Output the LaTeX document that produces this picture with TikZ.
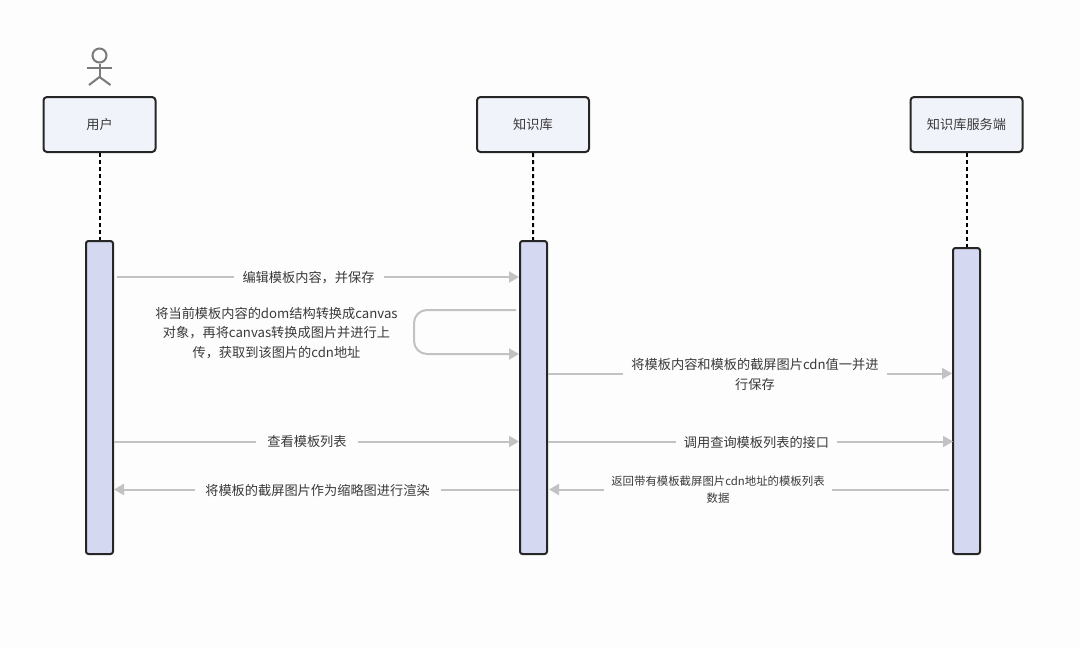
\documentclass[tikz,border=0pt]{standalone}
\usepackage{fontspec}
\setmainfont{Noto Sans CJK SC}
\usepackage{tikz}
\usetikzlibrary{positioning,arrows.meta}
\definecolor{pagebg}{HTML}{FDFDFD}
\definecolor{actorfill}{HTML}{F1F3FB}
\definecolor{barfill}{HTML}{D4D8F0}
\definecolor{msgline}{HTML}{C2C2C2}
\definecolor{msgtext}{HTML}{3A3A3A}
\definecolor{figline}{HTML}{7A7A7A}
\begin{document}
\begin{tikzpicture}[x=1pt,y=-1pt,font=\fontsize{13.2}{19.5}\selectfont]
    \tikzset{actorbox/.style={draw=black!85,line width=2pt,rounded corners=3.5pt,fill=actorfill,
        minimum width=112pt,minimum height=55pt,inner sep=0pt,text=msgtext}}
    \tikzset{bar/.style={draw=black!85,line width=2pt,rounded corners=2.5pt,fill=barfill,
        minimum width=27pt,inner sep=0pt}}
    \tikzset{msg/.style={draw=msgline,line width=2pt,-{Triangle[length=10pt,width=11pt]}}}
    \tikzset{msglabel/.style={fill=pagebg,text=msgtext,align=center,inner sep=0pt}}
    \tikzset{lifeline/.style={draw=black,line width=2pt,dash pattern=on 4pt off 3pt}}
    \useasboundingbox[fill=pagebg] (0,0) rectangle (1080,649);
    % actors
    \node[actorbox] (user) at (99.5,124.5) {用户};
    \node[actorbox] (kb) at (533,124.5) {知识库};
    \node[actorbox] (server) at (966.5,124.5) {知识库服务端};
    % activation bars
    \node[bar,minimum height=313pt] (userbar) at (99.5,397.5) {};
    \node[bar,minimum height=313pt] (kbbar) at (533.5,397.5) {};
    \node[bar,minimum height=306pt] (serverbar) at (966.5,401) {};
    \draw[lifeline] (user) -- (userbar);
    \draw[lifeline] (kb) -- (kbbar);
    \draw[lifeline] (server) -- (serverbar);
    % stick figure
    \node[draw=figline,line width=2pt,circle,minimum size=14pt,inner sep=0pt] (head) at (99.5,55.5) {};
    \coordinate (hip) at (99.5,77);
    \coordinate (armL) at (87,67.5);
    \coordinate (armR) at (112,67.5);
    \coordinate (legL) at (89,85);
    \coordinate (legR) at (110.5,85);
    \draw[figline,line width=2pt] (head) -- (hip);
    \draw[figline,line width=2pt] (armL) -- (armR);
    \draw[figline,line width=2pt] (legL) -- (hip) -- (legR);
    % message ends
    \coordinate (a1) at (117,277);
    \coordinate (b1) at (519,277);
    \coordinate (b2) at (516,310);
    \coordinate (b3) at (519,354);
    \coordinate (b4) at (548,373.5);
    \coordinate (c4) at (952,373.5);
    \coordinate (a5) at (114,441.5);
    \coordinate (b5) at (519,441.5);
    \coordinate (b6) at (548,441.5);
    \coordinate (c6) at (953,441.5);
    \coordinate (a7) at (114,489.5);
    \coordinate (b7) at (519,489.5);
    \coordinate (b8) at (549,489.5);
    \coordinate (c8) at (949,489.5);
    % messages
    \draw[msg] (a1) -- (b1);
    \node[msglabel,minimum width=150pt,minimum height=19pt] (m1) at (308.5,277.5) {编辑模板内容，并保存};
    \draw[msg,rounded corners=13pt] (b2) -| (414,354) -- (b3);
    \node[text=msgtext,align=center,inner sep=0pt] (m2) at (276.5,333) {将当前模板内容的dom结构转换成canvas\\对象，再将canvas转换成图片并进行上\\传，获取到该图片的cdn地址};
    \draw[msg] (b4) -- (c4);
    \node[msglabel,minimum width=264pt] (m3) at (755,374.5) {将模板内容和模板的截屏图片cdn值一并进\\行保存};
    \draw[msg] (a5) -- (b5);
    \node[msglabel,minimum width=102pt,minimum height=19pt] (m4) at (307,442) {查看模板列表};
    \draw[msg] (b6) -- (c6);
    \node[msglabel,minimum width=161pt,minimum height=19pt] (m5) at (756.5,442) {调用查询模板列表的接口};
    \draw[msg] (b7) -- (a7);
    \node[msglabel,minimum width=246pt,minimum height=19pt] (m6) at (317.5,490) {将模板的截屏图片作为缩略图进行渲染};
    \draw[msg] (c8) -- (b8);
    \node[msglabel,font=\fontsize{11.4}{17}\selectfont,minimum width=228pt] (m7) at (718,490) {返回带有模板截屏图片cdn地址的模板列表\\数据};
  \end{tikzpicture}
\end{document}
